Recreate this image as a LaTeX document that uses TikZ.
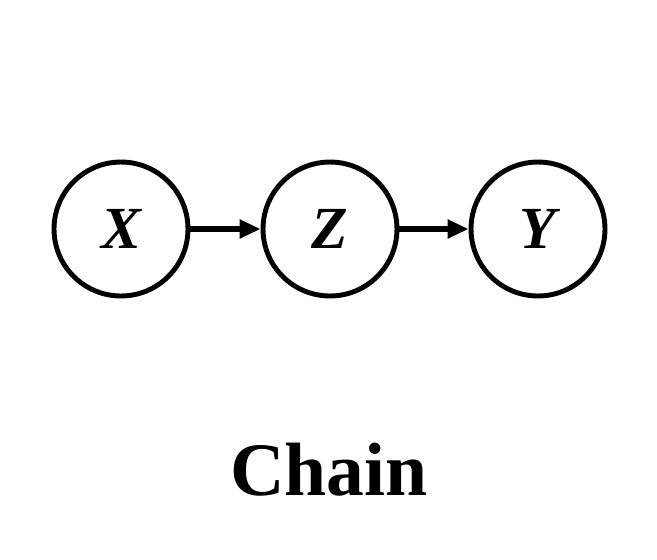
\documentclass[tikz,border=0pt]{standalone}
\usepackage{fontspec}
\setmainfont{Liberation Serif}
\usetikzlibrary{positioning,arrows.meta}
\begin{document}
\begin{tikzpicture}[
    x=0.02cm, y=-0.02cm,
    var/.style={circle, draw, line width=2.8pt, minimum size=2.68cm, inner sep=0pt, font=\fontsize{34}{36}\selectfont\bfseries\itshape},
    arrow/.style={-{Triangle[length=0.42cm,width=0.36cm]}, line width=3.2pt}
]
\useasboundingbox (0,0) rectangle (657,559);

% Variables
\node[var] (x) at (121,229) {X};
\node[var] (z) at (330,229) {Z};
\node[var] (y) at (538,229) {Y};

% Title
\node[font=\fontsize{43}{46}\selectfont\bfseries] (title) at (329,470) {Chain};

% Arrows
\draw[arrow] (x) -- (z);
\draw[arrow] (z) -- (y);

\end{tikzpicture}
\end{document}
